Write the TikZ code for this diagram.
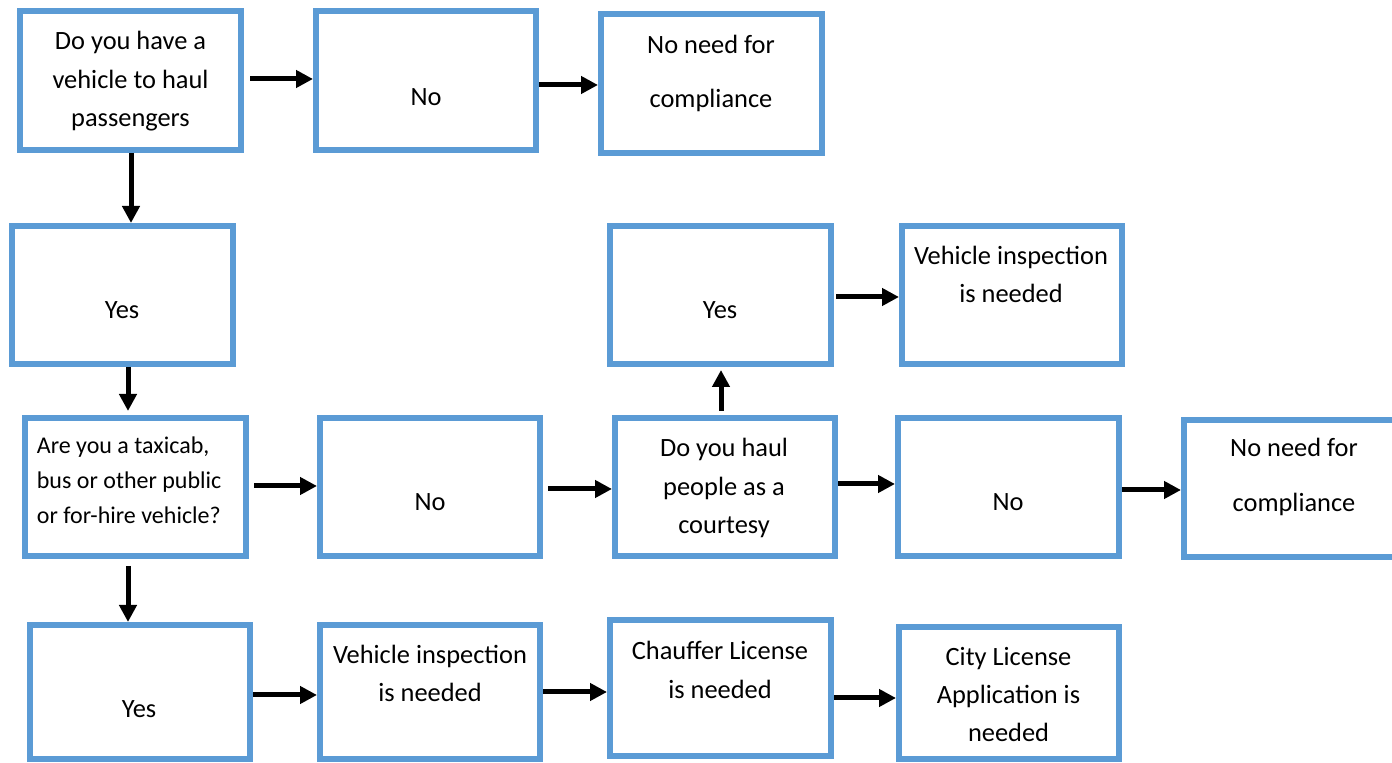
\documentclass[tikz,border=0pt]{standalone}
\usepackage{fontspec}
\setmainfont{Carlito}
\usetikzlibrary{arrows.meta}
\definecolor{bord}{HTML}{5B9BD5}
\tikzset{
  box/.style={draw=bord, line width=3pt, fill=white, inner sep=0pt},
  txt/.style={inner sep=0pt, anchor=base},
  arr/.style={line width=2.5pt, -{Triangle[length=8.5pt,width=8.5pt]}},
}
\newcommand\mybox[5]{\node[box, minimum width={(#4-#2-6)*0.5pt}, minimum height={(#5-#3-6)*0.5pt}] (#1) at ({(#2+#4)/2},{(#3+#5)/2}) {};}
\newcommand\mytext[5]{\node[txt] (#1) at (#2,#3) {\fontsize{13.2}{#4}\selectfont\begin{tabular}[t]{@{}c@{}}#5\end{tabular}};}
\begin{document}
\begin{tikzpicture}[x=0.5pt,y=-0.5pt]
\useasboundingbox (0,0) rectangle (1392,763);
% boxes
\mybox{B1}{17}{8}{244}{153}
\mybox{B2}{313}{8}{539}{153}
\mybox{B3}{598}{11}{825}{156}
\mybox{B4}{9}{223}{236}{367}
\mybox{B5}{22}{415}{249}{559}
\mybox{B6}{317}{415}{543}{559}
\mybox{B7}{612}{415}{838}{559}
\mybox{B8}{607}{223}{834}{367}
\mybox{B9}{899}{223}{1125}{367}
\mybox{B10}{895}{415}{1122}{559}
\mybox{B11}{1181}{417}{1403}{560}
\mybox{B12}{27}{622}{253}{762}
\mybox{B13}{317}{622}{543}{762}
\mybox{B14}{607}{617}{834}{759}
\mybox{B15}{896}{624}{1122}{762}
% texts
\mytext{T1}{130.5}{50}{19.25pt}{Do you have a\\vehicle to haul\\passengers}
\mytext{T2}{426}{106}{19.25pt}{No}
\mytext{T3}{711}{54}{26.75pt}{No need for\\compliance}
\mytext{T4}{122}{319}{19.25pt}{Yes}
\node[txt, anchor=base west] (T5) at (36.5,454) {\fontsize{12}{17.5pt}\selectfont\begin{tabular}[t]{@{}l@{}}Are you a taxicab,\\bus or other public\\or for-hire vehicle?\end{tabular}};
\mytext{T6}{430}{511}{19.25pt}{No}
\mytext{T7}{724}{457}{19.25pt}{Do you haul\\people as a\\courtesy}
\mytext{T8}{720}{319}{19.25pt}{Yes}
\mytext{T9}{1011}{265}{19pt}{Vehicle inspection\\is needed}
\mytext{T10}{1008}{511}{19.25pt}{No}
\mytext{T11}{1294}{457}{27.5pt}{No need for\\compliance}
\mytext{T12}{139}{718}{19.25pt}{Yes}
\mytext{T13}{430}{664}{19pt}{Vehicle inspection\\is needed}
\mytext{T14}{720}{660}{19.5pt}{Chauffer License\\is needed}
\mytext{T15}{1008.5}{666}{19pt}{City License\\Application is\\needed}
% arrows
\draw[arr, shorten <=3pt] (B1.east |- 0,79) -- (B2.west |- 0,79);
\draw[arr] (B2.east |- 0,85) -- (B3.west |- 0,85);
\draw[arr] (B1.south -| 131,0) -- (B4.north -| 131,0);
\draw[arr, shorten >=2pt] (B4.south -| 128,0) -- (B5.north -| 128,0);
\draw[arr, shorten <=2.5pt] (B5.east |- 0,486) -- (B6.west |- 0,486);
\draw[arr, shorten <=2.5pt] (B6.east |- 0,489) -- (B7.west |- 0,489);
\draw[arr, shorten <=2pt, shorten >=1.5pt] (B7.north -| 721,0) -- (B8.south -| 721,0);
\draw[arr, shorten <=1pt] (B8.east |- 0,297) -- (B9.west |- 0,297);
\draw[arr] (B7.east |- 0,484) -- (B10.west |- 0,484);
\draw[arr] (B10.east |- 0,490) -- (B11.west |- 0,490);
\draw[arr, shorten <=3.5pt] (B5.south -| 128,0) -- (B12.north -| 128,0);
\draw[arr] (B12.east |- 0,695) -- (B13.west |- 0,695);
\draw[arr] (B13.east |- 0,692) -- (B14.west |- 0,692);
\draw[arr] (B14.east |- 0,698) -- (B15.west |- 0,698);
\end{tikzpicture}
\end{document}
